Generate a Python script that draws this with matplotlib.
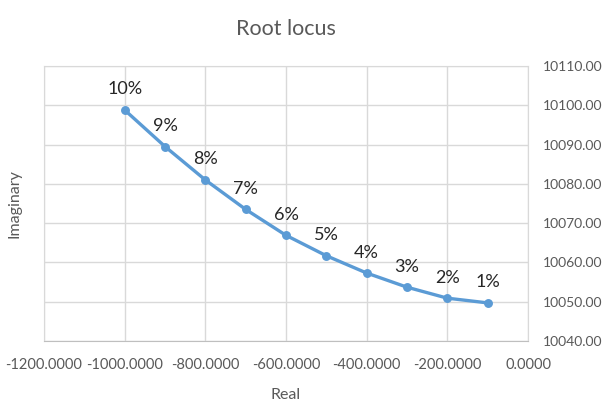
import matplotlib
matplotlib.use("Agg")
import matplotlib.pyplot as plt
from matplotlib.ticker import FormatStrFormatter

plt.rcParams['font.family'] = ['Lato', 'DejaVu Sans']

# root locus points, one per damping step
real_part = [-1000, -900, -800, -700, -600, -500, -400, -300, -200, -100]
imag_part = [10098.8, 10089.5, 10081.0, 10073.5, 10066.9,
             10061.7, 10057.3, 10053.7, 10050.9, 10049.7]
point_labels = ['10%', '9%', '8%', '7%', '6%', '5%', '4%', '3%', '2%', '1%']

x_ticks = [-1200, -1000, -800, -600, -400, -200, 0]
y_ticks = [10040, 10050, 10060, 10070, 10080, 10090, 10100, 10110]

grey = '#595959'
grid_col = '#d9d9d9'

fig = plt.figure(figsize=(6.05, 4.03), dpi=100)
ax = fig.add_axes([44 / 605, 1 - 341 / 403, 484 / 605, 275 / 403])

ax.plot(real_part, imag_part, color='#5b9bd5', linewidth=2.4,
        marker='o', markersize=5.4, zorder=3)

for x, y, lab in zip(real_part, imag_part, point_labels):
    ax.annotate(lab, (x, y), xytext=(0, 9), textcoords='offset points',
                ha='center', va='bottom', fontsize=13, color='#262626')

ax.set_xlim(-1200, 0)
ax.set_ylim(10040, 10110)
ax.set_xticks(x_ticks)
ax.set_yticks(y_ticks)
ax.xaxis.set_major_formatter(FormatStrFormatter('%.4f'))
ax.yaxis.set_major_formatter(FormatStrFormatter('%.2f'))

ax.yaxis.tick_right()
ax.yaxis.set_label_position('left')
ax.tick_params(axis='both', length=0, labelcolor=grey)
ax.tick_params(axis='x', pad=12, labelsize=10.5)
ax.tick_params(axis='y', pad=11, labelsize=10)

ax.grid(True, color=grid_col, linewidth=1)
ax.set_axisbelow(True)
for side in ['left', 'right', 'top']:
    ax.spines[side].set_color(grid_col)
ax.spines['bottom'].set_color('#bfbfbf')

ax.set_xlabel('Real', fontsize=11.5, color=grey, labelpad=12)
ax.set_ylabel('Imaginary', fontsize=11.5, color=grey, labelpad=16)
ax.set_title('Root locus', fontsize=15.5, color=grey, pad=22)

fig.savefig('out.png', dpi=100)
